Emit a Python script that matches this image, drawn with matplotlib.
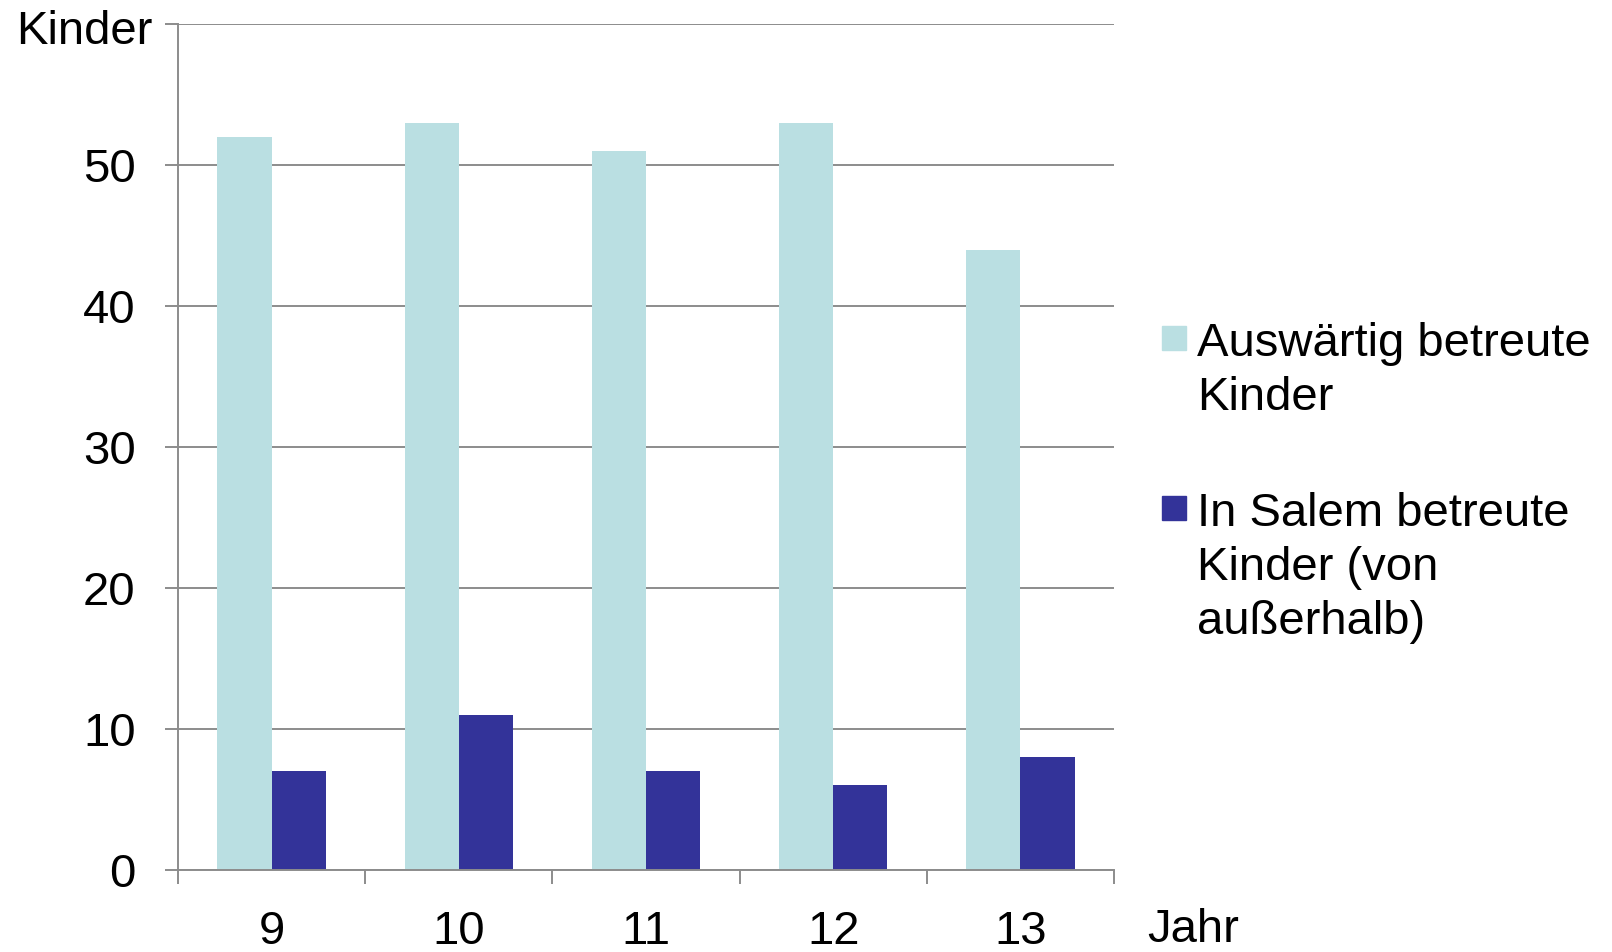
# Grouped bar chart: Kinder per Jahr, auswärtig vs. in Salem betreut
import matplotlib.pyplot as plt
from matplotlib.patches import Rectangle
import numpy as np

plt.rcParams['font.family'] = ['Liberation Sans', 'DejaVu Sans']

# data
jahre = ['9', '10', '11', '12', '13']
auswaertig = [52, 53, 51, 53, 44]
salem = [7, 11, 7, 6, 8]
labels = ['Auswärtig betreute\nKinder', 'In Salem betreute\nKinder (von\naußerhalb)']
colors = ['#BADFE2', '#333399']
grid_col = '#8C8C8C'

W, H = 1612, 952
fig = plt.figure(figsize=(W / 100, H / 100), dpi=100)
ax = fig.add_axes([178 / W, 82 / H, 936 / W, 846 / H])

x = np.arange(len(jahre))
w = 0.289
ax.bar(x - w / 2, auswaertig, w, color=colors[0])
ax.bar(x + w / 2, salem, w, color=colors[1])

ax.set_xlim(-0.5, len(jahre) - 0.5)
ax.set_ylim(0, 60)
ax.set_yticks(range(0, 61, 10))
ax.set_yticklabels(['0', '10', '20', '30', '40', '50', ''])

# grid + spines
ax.set_axisbelow(True)
ax.yaxis.grid(True, color=grid_col, linewidth=1.4)
for s in ['top', 'right']:
    ax.spines[s].set_visible(False)
for s in ['left', 'bottom']:
    ax.spines[s].set_color(grid_col)
    ax.spines[s].set_linewidth(1.4)

ax.tick_params(axis='y', length=9.5, width=1.4, color=grid_col, pad=21, labelsize=34)
# category boundaries as major ticks, labels on minor ticks
ax.set_xticks(np.arange(-0.5, len(jahre)))
ax.set_xticklabels([])
ax.set_xticks(x, minor=True)
ax.set_xticklabels(jahre, minor=True)
ax.tick_params(axis='x', which='major', length=10, width=1.4, color=grid_col)
ax.tick_params(axis='x', which='minor', length=0, pad=29, labelsize=34)

fig.text(152 / W, 908 / H, 'Kinder', fontsize=34, ha='right', va='baseline')
fig.text(1147 / W, 0, 'Jahr', fontsize=34, ha='left', va='bottom')

# legend drawn by hand so the square sits next to the first line
leg_base = [357, 527]   # first-line baseline, px from top
for lab, col, yb in zip(labels, colors, leg_base):
    fig.patches.append(Rectangle((1162 / W, (H - yb + 7) / H), 24 / W, 24 / H,
                                 transform=fig.transFigure, color=col))
    fig.text(1197 / W, (H - yb + 35) / H, lab, fontsize=34, ha='left', va='top',
             linespacing=1.3)

fig.savefig('out.png', dpi=100)
